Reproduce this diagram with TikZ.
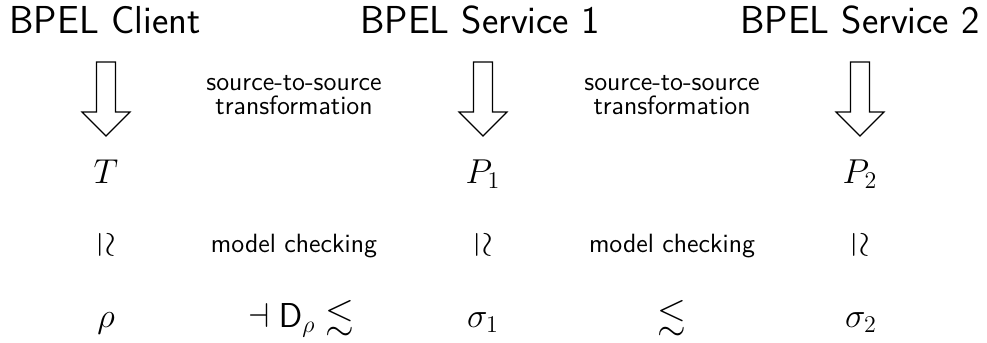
\documentclass[tikz,border=0pt]{standalone}
\usepackage{amssymb}
\usepackage{graphicx}
\tikzset{
    % column heads
    title/.style={
           font=\fontsize{19.5}{23}\sffamily,
           anchor=base,
           inner sep=0pt},
    % small notes between the columns
    note/.style={
           font=\fontsize{13.2}{12}\sffamily,
           align=center,
           inner sep=0pt},
    % formulas
    formula/.style={
           font=\fontsize{18.5}{22}\selectfont,
           anchor=base,
           inner sep=0pt},
    simrel/.style={
           font=\fontsize{18.5}{22}\selectfont,
           inner sep=0pt,
           rotate=-90},
    % hollow block arrow
    hollow/.style={
           draw=black,
           line width=0.6pt,
           line join=miter}
}

\begin{document}
\begin{tikzpicture}[x=0.5pt,y=-0.5pt]
\useasboundingbox (0,0) rectangle (987,343);
% heads
\node[title](client) at (105,33){BPEL Client};
\node[title](svc1) at (480,33){BPEL Service 1};
\node[title](svc2) at (860,33){BPEL Service 2};
% processes
\node[formula](T) at (106,183){$T$};
\node[formula](P1) at (483,183){$P_1$};
\node[formula](P2) at (860,183){$P_2$};
% equivalences
\node[simrel](w0) at (106,245){$\simeq$};
\node[simrel](w1) at (483,245){$\simeq$};
\node[simrel](w2) at (860,245){$\simeq$};
% specifications
\node[formula](rho) at (106,327){$\rho$};
\node[formula](pre) at (301,327){$\dashv \mathsf{D}_\rho \lesssim$};
\node[formula](s1) at (483,327){$\sigma_1$};
\node[formula](pre2) at (672,327){$\lesssim$};
\node[formula](s2) at (861,327){$\sigma_2$};
% notes
\node[note](tr1) at (294,95){source-to-source\\transformation};
\node[note](tr2) at (672,95){source-to-source\\transformation};
\node[note,anchor=base](mc1) at (294,252){model checking};
\node[note,anchor=base](mc2) at (672,252){model checking};
% block arrows
\foreach \f in {T,P1,P2}
    \draw[hollow,shift={(\f.base)}] (-9.5,-121) -- (9.5,-121) -- (9.5,-71)
        -- (24,-71) -- (0,-47) -- (-24,-71) -- (-9.5,-71) -- cycle;
\end{tikzpicture}
\end{document}
